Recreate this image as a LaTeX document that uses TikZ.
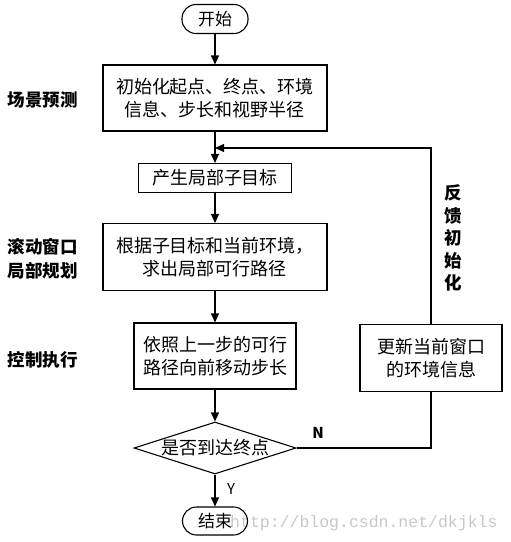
\documentclass[tikz,border=0pt]{standalone}
\usepackage{fontspec}
\setmainfont{Noto Sans CJK SC}
\newfontfamily\markfont{Liberation Mono}
\usetikzlibrary{arrows.meta,shapes.geometric}
\tikzset{
  flowbox/.style={
    draw=black,
    line width=1.1pt,
    align=center,
    inner sep=0pt,
    font=\fontsize{18}{23.5}\selectfont
  },
  termbox/.style={
    draw=black,
    line width=1.1pt,
    rounded corners=14pt,
    inner sep=0pt,
    minimum width=66pt,
    minimum height=29pt,
    font=\fontsize{17}{20}\selectfont
  },
  decision/.style={
    draw=black,
    diamond,
    line width=1.1pt,
    inner sep=0pt,
    minimum width=162pt,
    minimum height=52pt
  },
  sidelabel/.style={
    align=center,
    inner sep=0pt,
    font=\fontsize{17.5}{24}\selectfont\bfseries
  },
  flowarrow/.style={
    -{Triangle[length=9pt,width=8pt]},
    line width=1.1pt
  },
  flowline/.style={
    line width=1.1pt
  }
}

\begin{document}
\begin{tikzpicture}[x=1pt,y=-1pt]
  \useasboundingbox (0,0) rectangle (511,542);
  \node[anchor=base west, inner sep=0pt, text=black!22, font=\markfont\fontsize{16.5}{18}\selectfont] (mark) at (230,527) {http://blog.csdn.net/dkjkls};
  % main column
  \node[termbox] (start) at (215,19) {开始};
  \node[flowbox, minimum width=224pt, minimum height=66pt] (init) at (215,98) {初始化起点、终点、环境\\信息、步长和视野半径};
  \node[flowbox, minimum width=153pt, minimum height=29pt] (goal) at (215,178) {产生局部子目标};
  \node[flowbox, minimum width=224pt, minimum height=67pt] (plan) at (215,257) {根据子目标和当前环境，\\求出局部可行路径};
  \node[flowbox, minimum width=162pt, minimum height=66pt] (move) at (215,356) {依照上一步的可行\\路径向前移动步长};
  \node[decision] (check) at (215,448) {};
  \node[inner sep=0pt, font=\fontsize{18}{20}\selectfont] (checktext) at (check) {是否到达终点};
  \node[termbox, minimum width=65pt, minimum height=28pt] (end) at (215,521) {结束};
  % feedback branch
  \node[flowbox, minimum width=142pt, minimum height=67pt] (update) at (431,358) {更新当前窗口\\的环境信息};
  \node[sidelabel, font=\fontsize{17.5}{22.5}\selectfont\bfseries] (feedback) at (453,238) {反\\馈\\初\\始\\化};
  \coordinate (join) at (215,148);
  % stage labels
  \node[sidelabel] (scene) at (43,100) {场景预测};
  \node[sidelabel] (window) at (43,259) {滚动窗口\\局部规划};
  \node[sidelabel] (control) at (43,360) {控制执行};
  \node[inner sep=0pt, font=\fontsize{15}{18}\selectfont\bfseries] (no) at (318,433) {N};
  \node[inner sep=0pt, font=\fontsize{15}{18}\selectfont] (yes) at (231,489) {Y};
  \draw[flowarrow] (start) -- (init);
  \draw[flowarrow] (init) -- (goal);
  \draw[flowarrow] (goal) -- (plan);
  \draw[flowarrow] (plan) -- (move);
  \draw[flowarrow] (move) -- (check);
  \draw[flowarrow] (check) -- (end);
  \draw[flowline] (check.east) -| (update.south);
  \draw[flowarrow] (update.north) |- (join);
\end{tikzpicture}
\end{document}
